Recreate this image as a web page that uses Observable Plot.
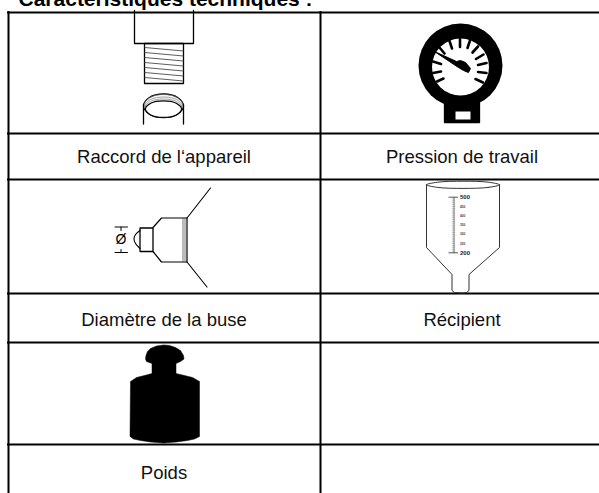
<!DOCTYPE html>
<html>
<head>
<meta charset="utf-8">
<script src="https://cdn.jsdelivr.net/npm/d3@7"></script>
<script src="https://cdn.jsdelivr.net/npm/@observablehq/plot@0.6"></script>
<style>html,body{margin:0;padding:0;background:#fff}svg{display:block}</style>
</head>
<body>
<div id="chart"></div>
<script>
const title = "Caractéristiques techniques :";
const cellLabels = [
  {text: "Raccord de l‘appareil", x: 163.5, y: 162},
  {text: "Pression de travail", x: 461.5, y: 162},
  {text: "Diamètre de la buse", x: 163.5, y: 325},
  {text: "Récipient", x: 461.5, y: 325},
  {text: "Poids", x: 163.5, y: 478.5}
];
const rowLines = [12, 133, 179, 293, 342, 444];
const colLines = [8, 320];

// unit octagon smoothed into a circle by a closed curve
const unitRing = [[1,0],[.707,.707],[0,1],[-.707,.707],[-1,0],[-.707,-.707],[0,-1],[.707,-.707]];
const ring = (cx, cy, rx, ry) => unitRing.map(([a, b]) => [cx + a * rx, cy + b * ry]);

// fitting
const maleBlock = [[134,10],[134,43],[193,43],[193,10]];
const maleThread = [[144,43],[144,83],[183,83],[183,43],[144,43]];
const threadLefts = [47,52,57,62,67,72,77];
const femaleSides = [[[143,105],[143,123.5]],[[183,105],[183,123.5]]];

// gauge
const gaugeBase = [[444,100],[444,122],[479,122],[479,100]];
const gaugeWindow = [[455,111],[470,111],[470,119],[455,119]];
const gaugeNeedle = [[434,51],[456,61],[460,60],[465,62],[470,68],[468,72],[463,70],[458,67]];
const gaugeTicks = [
  [[443,78],[436.5,81]],[[440.5,71],[432.5,72.5]],[[440.5,63.5],[432.5,61]],
  [[444,53],[439,47]],[[451.5,48],[449,40.5]],[[459.5,46.5],[459.5,38.5]],
  [[467,47.5],[469.5,40]],[[472,52],[477.5,46]],[[475.5,58.5],[483,54]],
  [[477.5,64.5],[486,62.5]],[[477.5,71.5],[486,72.5]],[[475,78.5],[482.5,82]]
];

// nozzle
const nozzleFlares = [[[186.5,217.5],[210,187.5]],[[186.5,261.5],[206.5,286.5]]];
const nozzleBody = [[152.5,227],[161,217.5],[186.5,217.5],[186.5,261.5],[161,261.5],[152.5,251]];
const nozzleRibs = [[[182.5,217.5],[182.5,261.5]],[[184.5,217.5],[184.5,261.5]]];
const nozzleCap = [[152.5,227.5],[139.5,227.5],[139.5,251],[152.5,251],[152.5,227.5]];
const nozzleTip = [[139.5,230],[135,234],[133.5,238.5],[135,243],[139.5,248]];
const dimension = [
  [[114.5,226.5],[127,226.5]],[[114.5,252],[127,252]],
  [[120.5,226.5],[120.5,230]],[[120.5,249],[120.5,252]]
];

// beaker
const beakerWalls = [[426,184],[426,247],[451.5,274],[451.5,290],[454,292],[462,292.5],[466,292],[468.5,290],[468.5,274],[499,247],[499,184]];
const majorScale = [{label: "500", y: 196.7}, {label: "200", y: 252.3}];
const minorScale = [{label: "450", y: 206}, {label: "400", y: 215.3}, {label: "350", y: 224.5}, {label: "300", y: 233.7}, {label: "250", y: 243}];
const scaleAxis = [[453.5,196.7],[453.5,252.3]];
const scaleMarks = [198.6,200.4,202.3,204.1,206,207.9,209.7,211.6,213.4,215.3,217.1,219,220.9,222.7,224.6,226.4,228.3,230.1,232,233.9,235.7,237.6,239.4,241.3,243.1,245,246.9,248.7,250.6];

// weight
const weightShape = [[163,344.5],[156,345.5],[150,348],[147,351],[145.5,355],[145,358.5],[146,361],[151.5,363],[151.5,373],[144,375],[136,377],[130,381],[129.5,436],[133,438.5],[140,440],[150,441.5],[163,442.5],[176,441.5],[187,440],[194,438.5],[199,436],[199,381],[192,377],[184,375],[175.5,373],[175.5,363],[180,361],[183.5,358.5],[183,355],[180,350],[175,347],[169,345]];

const px = (d) => d[0], py = (d) => d[1];
const shape = (pts, o = {}) => Plot.line(pts, {x: px, y: py, stroke: "black", strokeWidth: 1.3, strokeLinejoin: "miter", ...o});
const segs = (list, o = {}) => list.map((s) => shape(s, o));

const plot = Plot.plot({
  width: 599, height: 493, margin: 0,
  x: {domain: [0, 599], range: [0, 599], axis: null},
  y: {domain: [0, 493], range: [0, 493], axis: null},
  style: {fontFamily: "'Liberation Sans', Arial, sans-serif", background: "#fff"},
  marks: [
    // grid
    Plot.ruleY(rowLines, {x1: 7, x2: 599, stroke: "black", strokeWidth: 2}),
    Plot.ruleX(colLines, {y1: 11, y2: 493, stroke: "black", strokeWidth: 2}),
    Plot.text([title], {x: 18, y: 5.5, text: (d) => d, textAnchor: "start", lineAnchor: "bottom", fontWeight: "bold", fontSize: 21, fill: "black"}),
    Plot.text(cellLabels, {x: "x", y: "y", text: "text", textAnchor: "middle", lineAnchor: "bottom", fontSize: 18.5, fill: "#111"}),

    // fitting
    shape(maleBlock),
    shape(maleThread),
    ...threadLefts.map((y) => shape([[144, y], [183, y + 3.5]], {strokeWidth: .8, stroke: "#333"})),
    ...segs(femaleSides),
    shape(ring(163, 105.3, 20, 11.8), {curve: "catmull-rom-closed", fill: "white"}),
    shape(ring(163, 103.8, 19, 9.8), {curve: "catmull-rom-closed", strokeWidth: .7, stroke: "#777"}),
    shape(ring(163, 105.5, 18.8, 9), {curve: "catmull-rom-closed", strokeWidth: .7, stroke: "#777"}),
    shape(ring(163, 107, 18.5, 8.5), {curve: "catmull-rom-closed", strokeWidth: .7, stroke: "#777"}),
    shape(ring(163, 108.6, 18, 8.2), {curve: "catmull-rom-closed", fill: "white", strokeWidth: 1.1}),

    // gauge
    shape(gaugeBase, {fill: "black", curve: "linear-closed"}),
    Plot.dot([[460, 65]], {x: px, y: py, r: 42, fill: "black"}),
    Plot.dot([[460, 66.5]], {x: px, y: py, r: 28.5, fill: "white"}),
    shape(gaugeWindow, {fill: "white", stroke: "none", curve: "linear-closed"}),
    ...segs(gaugeTicks, {strokeWidth: 2.6}),
    shape(gaugeNeedle, {fill: "black", strokeWidth: 1, curve: "linear-closed"}),

    // nozzle
    ...segs(nozzleFlares, {strokeWidth: 1.1}),
    shape(nozzleBody, {strokeWidth: 1.2}),
    ...segs(nozzleRibs, {strokeWidth: .8, stroke: "#555"}),
    shape(nozzleCap),
    shape(nozzleTip, {strokeWidth: 1.1, curve: "catmull-rom"}),
    ...segs(dimension, {strokeWidth: 1}),
    Plot.text(["Ø"], {x: 120.5, y: 239, text: (d) => d, fontSize: 14, fill: "black"}),

    // beaker
    shape(beakerWalls, {strokeWidth: 1, stroke: "#333"}),
    shape(ring(462.5, 184.3, 36.5, 3.6), {curve: "catmull-rom-closed", strokeWidth: 1, stroke: "#333", fill: "white"}),
    shape(scaleAxis, {strokeWidth: .9, stroke: "#666"}),
    Plot.ruleY(scaleMarks, {x1: 451.8, x2: 455.2, stroke: "#888", strokeWidth: .5}),
    Plot.ruleY(majorScale, {y: "y", x1: 448.5, x2: 458, stroke: "#444", strokeWidth: .9}),
    Plot.text(majorScale, {x: 459.5, y: "y", text: "label", textAnchor: "start", fontWeight: "bold", fontSize: 6, fill: "#222"}),
    Plot.text(minorScale, {x: 459.5, y: "y", text: "label", textAnchor: "start", fontWeight: "bold", fontSize: 3.2, fill: "#444"}),

    // weight
    shape(weightShape, {fill: "black", stroke: "black", strokeWidth: .5, curve: "linear-closed"})
  ]
});
document.getElementById("chart").append(plot);
</script>
</body>
</html>
